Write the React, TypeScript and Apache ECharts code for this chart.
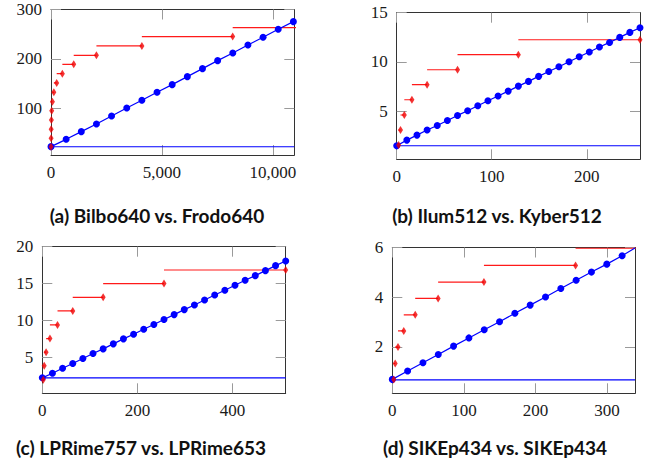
import React, { useEffect, useRef } from "react";
import * as echarts from "echarts";

// ---------- Panel (a) Bilbo640 vs. Frodo640 ----------
const aXTicks = [0, 5000, 10000];
const aYTicks = [100, 200, 300];
const aBlueX = [0, 683, 1366, 2049, 2732, 3415, 4098, 4781, 5464, 6147, 6830, 7513, 8196, 8879, 9562, 10245, 10928];
const aBlueY = [22.4, 37.2, 52.8, 68.3, 84.5, 100.7, 116.2, 132.4, 147.9, 164.1, 180.3, 196.5, 212, 228.2, 243.7, 259.9, 275.4];
const aRedEdges = [1, 2, 4, 8, 16, 32, 64, 128, 256, 512, 1024, 2048, 4096, 8192, 16384];
const aRedY = [22.4, 39.3, 57.5, 76.4, 95.3, 113.5, 132.4, 151.3, 170.2, 189.1, 207.3, 226.2, 245.1, 263.3];
const aBase = 22.2;

// ---------- Panel (b) Ilum512 vs. Kyber512 ----------
const bXTicks = [0, 100, 200];
const bYTicks = [5, 10, 15];
const bBlueX = [0, 10.67, 21.33, 32, 42.67, 53.33, 64, 74.67, 85.33, 96, 106.67, 117.33, 128, 138.67, 149.33, 160, 170.67, 181.33, 192, 202.67, 213.33, 224, 234.67, 245.33, 256];
const bBlueY = [1.47, 2.05, 2.56, 3.07, 3.54, 4.05, 4.56, 5.03, 5.54, 6.05, 6.53, 7.03, 7.54, 8.02, 8.53, 9.03, 9.51, 10.02, 10.53, 11.0, 11.51, 11.98, 12.49, 13.0, 13.47];
const bRedEdges = [1, 2, 4, 8, 16, 32, 64, 128, 256];
const bRedY = [1.55, 3.07, 4.6, 6.15, 7.68, 9.2, 10.73, 12.25];
const bBase = 1.47;

// ---------- Panel (c) LPRime757 vs. LPRime653 ----------
const cXTicks = [0, 200, 400];
const cYTicks = [5, 10, 15, 20];
const cBlueX = [0, 21.33, 42.67, 64, 85.33, 106.67, 128, 149.33, 170.67, 192, 213.33, 234.67, 256, 277.33, 298.67, 320, 341.33, 362.67, 384, 405.33, 426.67, 448, 469.33, 490.67, 512];
const cBlueY = [2.2, 2.83, 3.51, 4.14, 4.82, 5.5, 6.13, 6.81, 7.49, 8.12, 8.8, 9.43, 10.11, 10.78, 11.46, 12.09, 12.77, 13.45, 14.08, 14.76, 15.44, 16.07, 16.75, 17.43, 18.06];
const cRedEdges = [1, 2, 4, 8, 16, 32, 64, 128, 256, 512];
const cRedY = [1.93, 3.83, 5.68, 7.53, 9.38, 11.28, 13.13, 15.0, 16.84];
const cBase = 2.2;

// ---------- Panel (d) SIKEp434 vs. SIKEp434 ----------
const dXTicks = [0, 100, 200, 300];
const dYTicks = [2, 4, 6];
const dBlueX = [0, 21.4, 42.8, 64.2, 85.6, 107, 128.4, 149.8, 171.2, 192.6, 214, 235.4, 256.8, 278.2, 299.6, 321, 339];
const dBlueY = [0.69, 1.03, 1.36, 1.69, 2.03, 2.36, 2.69, 3.01, 3.35, 3.68, 4.01, 4.35, 4.68, 5.01, 5.33, 5.67, 5.98];
const dBlueDots = 16;
const dRedEdges = [1, 2, 4, 8, 16, 32, 64, 128, 256, 512];
const dRedY = [0.69, 1.33, 1.99, 2.64, 3.29, 3.95, 4.61, 5.28, 5.97];
const dBase = 0.67;

const captions = [
  "(a) Bilbo640 vs. Frodo640",
  "(b) Ilum512 vs. Kyber512",
  "(c) LPRime757 vs. LPRime653",
  "(d) SIKEp434 vs. SIKEp434",
];

type Panel = {
  xMin: number; xMax: number; yMin: number; yMax: number;
  xTicks: number[]; yTicks: number[];
  blueX: number[]; blueY: number[]; blueDots: number;
  redEdges: number[]; redY: number[]; base: number;
  grid: { left: number; top: number; width: number; height: number };
  caption: string; capX: number; capY: number;
};

const panels: Panel[] = [
  { xMin: 0, xMax: 10970, yMin: 5.5, yMax: 300, xTicks: aXTicks, yTicks: aYTicks, blueX: aBlueX, blueY: aBlueY, blueDots: aBlueX.length, redEdges: aRedEdges, redY: aRedY, base: aBase,
    grid: { left: 51, top: 9.5, width: 243.3, height: 145.5 }, caption: captions[0], capX: 157, capY: 215 },
  { xMin: 0, xMax: 256, yMin: 0.1, yMax: 15, xTicks: bXTicks, yTicks: bYTicks, blueX: bBlueX, blueY: bBlueY, blueDots: bBlueX.length, redEdges: bRedEdges, redY: bRedY, base: bBase,
    grid: { left: 396.7, top: 12.7, width: 243.3, height: 146.6 }, caption: captions[1], capX: 497, capY: 215 },
  { xMin: 0, xMax: 512, yMin: 0.1, yMax: 20, xTicks: cXTicks, yTicks: cYTicks, blueX: cBlueX, blueY: cBlueY, blueDots: cBlueX.length, redEdges: cRedEdges, redY: cRedY, base: cBase,
    grid: { left: 42.3, top: 246.7, width: 243.4, height: 146.6 }, caption: captions[2], capX: 141, capY: 447 },
  { xMin: 0, xMax: 339, yMin: 0.13, yMax: 6, xTicks: dXTicks, yTicks: dYTicks, blueX: dBlueX, blueY: dBlueY, blueDots: dBlueDots, redEdges: dRedEdges, redY: dRedY, base: dBase,
    grid: { left: 392.3, top: 247.5, width: 242.7, height: 145.8 }, caption: captions[3], capX: 495, capY: 447 },
];

const BLUE = "#0000ff";
const RED = "#ff1a1a";
const FRAME = "#333333";
const TICK = "#9a9a9a";

function buildOption() {
  const grid: any[] = [];
  const xAxis: any[] = [];
  const yAxis: any[] = [];
  const series: any[] = [];
  const graphic: any[] = [];

  panels.forEach((p, i) => {
    grid.push({ left: p.grid.left, top: p.grid.top, width: p.grid.width, height: p.grid.height, show: false });
    for (let k = 0; k < 2; k++) {
      xAxis.push({
        gridIndex: i, type: "value", position: k === 0 ? "bottom" : "top", min: p.xMin, max: p.xMax,
        axisLine: { show: true, onZero: false, lineStyle: { color: FRAME, width: 1 } },
        axisTick: { show: true, inside: true, length: 10, customValues: p.xTicks, lineStyle: { color: TICK, width: 1 } },
        axisLabel: {
          show: k === 0, customValues: p.xTicks, margin: 9,
          fontFamily: "Liberation Serif", fontSize: 17, color: "#1a1a1a",
        },
        splitLine: { show: false },
      });
    }
    for (let k = 0; k < 2; k++) {
      yAxis.push({
        gridIndex: i, type: "value", position: k === 0 ? "left" : "right", min: p.yMin, max: p.yMax,
        axisLine: { show: true, onZero: false, lineStyle: { color: FRAME, width: 1 } },
        axisTick: { show: true, inside: true, length: 10, customValues: p.yTicks, lineStyle: { color: TICK, width: 1 } },
        axisLabel: {
          show: k === 0, customValues: p.yTicks, margin: 9,
          fontFamily: "Liberation Serif", fontSize: 17, color: "#1a1a1a",
        },
        splitLine: { show: false },
      });
    }
    const xi = i * 2;
    const yi = i * 2;
    // baseline
    series.push({
      type: "line", xAxisIndex: xi, yAxisIndex: yi, silent: true, showSymbol: false, symbol: "none",
      data: [[p.xMin, p.base], [p.xMax, p.base]],
      lineStyle: { color: BLUE, width: 1.1 }, z: 2,
    });
    // red step segments
    const stepData: any[] = [];
    p.redY.forEach((y, k) => {
      stepData.push([p.redEdges[k], y]);
      stepData.push([p.redEdges[k + 1], y]);
      stepData.push([p.redEdges[k + 1], null]);
    });
    series.push({
      type: "line", xAxisIndex: xi, yAxisIndex: yi, silent: true, showSymbol: false, symbol: "none",
      connectNulls: false, clip: true, data: stepData,
      lineStyle: { color: RED, width: 1.2 }, z: 3,
    });
    // blue line with dots
    series.push({
      type: "line", xAxisIndex: xi, yAxisIndex: yi, silent: true, clip: false,
      data: p.blueX.map((x, k) => (k < p.blueDots ? { value: [x, p.blueY[k]] } : { value: [x, p.blueY[k]], symbol: "none" })),
      symbol: "circle", symbolSize: 7, showSymbol: true, showAllSymbol: true,
      itemStyle: { color: BLUE }, lineStyle: { color: BLUE, width: 1.2 }, z: 4,
    });
    // red diamonds
    const diam: number[][] = [];
    p.redY.forEach((y, k) => {
      const x = p.redEdges[k + 1];
      if (x <= p.xMax) diam.push([x, y]);
    });
    series.push({
      type: "scatter", xAxisIndex: xi, yAxisIndex: yi, silent: true, clip: false,
      data: diam, symbol: "diamond", symbolSize: [5, 8],
      itemStyle: { color: "#f00000" }, z: 5,
    });
    graphic.push({
      type: "text", x: p.capX, y: p.capY,
      style: {
        text: p.caption, font: "bold 19px Lato", fill: "#111",
        textAlign: "center", align: "center", textVerticalAlign: "middle", verticalAlign: "middle",
      },
    });
  });

  return { animation: false, backgroundColor: "#ffffff", grid, xAxis, yAxis, series, graphic };
}

export default function App() {
  const ref = useRef<HTMLDivElement>(null);
  useEffect(() => {
    const chart = echarts.init(ref.current!, null, { renderer: "svg" });
    chart.setOption(buildOption() as any);
    return () => chart.dispose();
  }, []);
  return <div ref={ref} style={{ position: "absolute", left: 0, top: 0, width: 659, height: 465 }} />;
}
